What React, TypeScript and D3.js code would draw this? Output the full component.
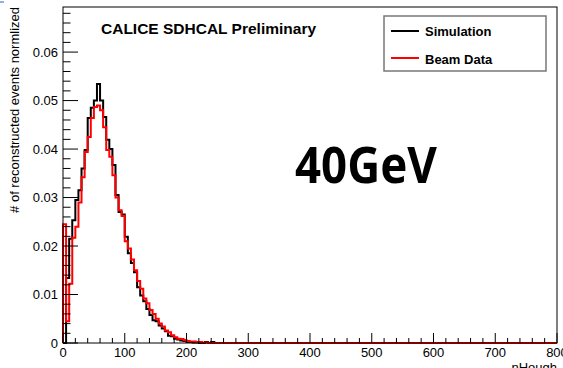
import React from 'react';
import * as d3 from 'd3';

// histogram contents, 5 units per bin starting at 0 (bins after the list are empty)
const binWidth = 5;
const simulation = [
  0, 0.0134, 0.0215, 0.0253, 0.0295, 0.0315, 0.036, 0.0398, 0.0464, 0.0485,
  0.05, 0.0534, 0.05, 0.0466, 0.0419, 0.04, 0.0367, 0.0305, 0.027, 0.0265,
  0.0219, 0.0185, 0.0165, 0.0146, 0.0115, 0.0098, 0.0086, 0.007, 0.0058, 0.0047,
  0.0045, 0.0036, 0.003, 0.0024, 0.0015, 0.0014, 0.0009, 0.0007, 0.0005, 0.0004,
  0.0002, 0.0002, 0.0001, 0.0001, 0, 0, 0.0002, 0, 0.0002, 0,
];
const beamData = [
  0.0245, 0.0045, 0.0122, 0.0217, 0.024, 0.029, 0.0342, 0.0394, 0.0425, 0.0464,
  0.0487, 0.049, 0.048, 0.0445, 0.0398, 0.0384, 0.0346, 0.03, 0.0274, 0.0262,
  0.021, 0.0195, 0.0172, 0.015, 0.0128, 0.0112, 0.0092, 0.0082, 0.0068, 0.006,
  0.005, 0.004, 0.0034, 0.0026, 0.0022, 0.0016, 0.0012, 0.0009, 0.0008, 0.0006,
  0.0004, 0.0003, 0.0003, 0.0002, 0.0002, 0.0001, 0.0001,
];
const xTicks = [0, 100, 200, 300, 400, 500, 600, 700, 800];
const yTicks = [0, 0.01, 0.02, 0.03, 0.04, 0.05, 0.06];
const yTickLabels = ['0', '0.01', '0.02', '0.03', '0.04', '0.05', '0.06'];

const W = 563;
const H = 368;
const font = '"Liberation Sans", Arial, Helvetica, sans-serif';

const x = d3.scaleLinear().domain([0, 800]).range([63, 557]);
const y = d3.scaleLinear().domain([0, 0.0693]).range([343, 7]);

const stepPath = (values: number[]) => {
  const pts: [number, number][] = [[0, 0]];
  values.forEach((v, i) => pts.push([i * binWidth, v]));
  pts.push([values.length * binWidth, 0]);
  pts.push([800, 0]);
  return d3.line<[number, number]>()
    .x(d => x(d[0]))
    .y(d => y(d[1]))
    .curve(d3.curveStepAfter)(pts) || '';
};

export default function App() {
  const minorX = d3.range(0, 41).map(k => k * 20);
  const minorY = d3.range(0, 35).map(k => k * 0.002);

  return (
    <svg width={W} height={H} style={{ position: 'absolute', left: 0, top: 0, background: '#fff' }}>
      <line x1={0} y1={2} x2={4} y2={2} stroke="#3060c0" strokeWidth={1} />

      {/* histograms */}
      <path d={stepPath(simulation)} fill="none" stroke="#000" strokeWidth={2} />
      <path d={stepPath(beamData)} fill="none" stroke="#ff0000" strokeWidth={2} />

      {/* frame */}
      <rect x={63} y={7} width={494} height={336} fill="none" stroke="#000" strokeWidth={1} />

      {/* x axis ticks */}
      {minorX.map(v => (
        <line key={'mx' + v} x1={x(v)} x2={x(v)} y1={343} y2={v % 100 === 0 ? 333 : 338}
          stroke="#000" strokeWidth={1} />
      ))}
      {xTicks.map(v => (
        <text key={'tx' + v} x={x(v)} y={357} fontSize={13} fontFamily={font} textAnchor="middle">{v}</text>
      ))}
      <text x={557} y={372} fontSize={13} fontFamily={font} textAnchor="end">nHough</text>

      {/* y axis ticks */}
      {minorY.map((v, k) => (
        <line key={'my' + k} x1={63} x2={k % 5 === 0 ? 78 : 70.5} y1={y(v)} y2={y(v)}
          stroke="#000" strokeWidth={1} />
      ))}
      {yTicks.map((v, i) => (
        <text key={'ty' + i} x={58} y={y(v)} dy="0.35em" fontSize={13} fontFamily={font} textAnchor="end">
          {yTickLabels[i]}
        </text>
      ))}
      <text transform="translate(19,7) rotate(-90)" fontSize={13} fontFamily={font} textAnchor="end">
        # of reconstructed events normlized
      </text>

      {/* title */}
      <text x={101} y={34} fontSize={15.5} fontWeight="bold" fontFamily={font}>CALICE SDHCAL Preliminary</text>

      {/* legend */}
      <rect x={384} y={16} width={162} height={55} fill="#fff" stroke="#777" strokeWidth={1.5} />
      <line x1={391} x2={419} y1={31} y2={31} stroke="#000" strokeWidth={2} />
      <text x={425} y={36} fontSize={13} fontWeight="bold" fontFamily={font}>Simulation</text>
      <line x1={391} x2={419} y1={58} y2={58} stroke="#ff0000" strokeWidth={2} />
      <text x={425} y={64} fontSize={13} fontWeight="bold" fontFamily={font}>Beam Data</text>

      {/* energy label */}
      <text x={295} y={183} fontSize={51} fontWeight="bold" fontFamily='"Noto Sans", sans-serif'
        textLength={142} lengthAdjust="spacingAndGlyphs">40GeV</text>
    </svg>
  );
}
